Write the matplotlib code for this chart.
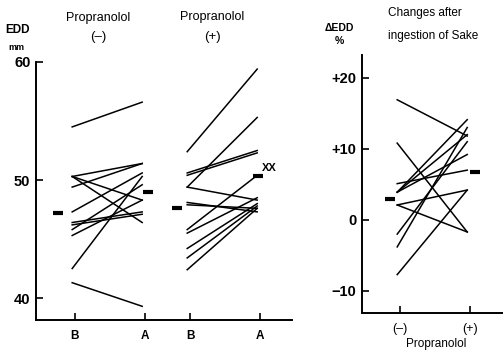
import matplotlib
matplotlib.use("Agg")
import matplotlib.pyplot as plt

plt.rcParams['font.family'] = ['Liberation Sans', 'DejaVu Sans']

# EDD (mm) before (B) and after (A) sake, propranolol (-)
minus_B = [54.5, 50.3, 49.4, 50.3, 50.3, 47.3, 46.4, 46.2, 45.3, 42.5, 41.3, 45.8]
minus_A = [56.6, 51.4, 51.4, 48.3, 46.4, 50.6, 47.3, 47.1, 48.3, 50.3, 39.3, 49.6]
minus_mean = [47.2, 49.0]

# EDD (mm) before (B) and after (A) sake, propranolol (+)
plus_B = [52.4, 49.4, 50.6, 50.4, 49.4, 48.1, 47.9, 45.8, 45.5, 44.2, 43.4, 42.4]
plus_A = [59.4, 55.3, 52.5, 52.3, 48.3, 47.3, 47.6, 50.4, 48.5, 48.0, 47.8, 47.6]
plus_mean = [47.6, 50.3]

# change of EDD (%) after sake, without / with propranolol
delta_minus = [16.9, 10.8, 5.1, 3.9, 3.9, 3.9, 2.1, 2.1, -3.8, -7.7, -2.0]
delta_plus = [11.8, -1.7, 7.0, 14.1, 12.0, 9.2, 4.2, -1.7, 13.0, 4.2, 11.0]
delta_mean = [3.0, 6.8]

W, H = 503, 355
fig = plt.figure(figsize=(W / 100, H / 100), dpi=100)


def rect(x0, y0, x1, y1):
    # pixel box -> figure fraction
    return [x0 / W, 1 - y1 / H, (x1 - x0) / W, (y1 - y0) / H]


def ftext(x, y, s, **kw):
    fig.text(x / W, 1 - y / H, s, **kw)


# ---- left: absolute EDD, both panels share one axis ----
ax = fig.add_axes(rect(36, 62, 292, 320))
ax.set_xlim(-0.557, 3.1)
ax.set_ylim(38.14, 60)
for s in ['top', 'right']:
    ax.spines[s].set_visible(False)
for s in ['left', 'bottom']:
    ax.spines[s].set_linewidth(1.4)

x2 = 1.643
for b, a in zip(minus_B, minus_A):
    ax.plot([-0.04, 0.96], [b, a], color='black', lw=1.1)
for b, a in zip(plus_B, plus_A):
    ax.plot([x2 - 0.04, x2 + 0.96], [b, a], color='black', lw=1.1)

mk = dict(marker='_', color='black', markersize=7, mew=3, ls='none')
ax.plot([-0.24], [minus_mean[0]], **mk)
ax.plot([1.04], [minus_mean[1]], **mk)
ax.plot([x2 - 0.18], [plus_mean[0]], **mk)
ax.plot([x2 + 0.97], [plus_mean[1]], **mk)
ax.text(x2 + 1.02, plus_mean[1] + 0.3, 'XX', fontsize=8, fontweight='bold',
        va='bottom', ha='left')

ax.set_yticks([40, 50, 60])
ax.set_yticklabels(['40', '50', '60'], fontsize=10.5, fontweight='bold')
ax.set_xticks([0, 1, x2, x2 + 1])
ax.set_xticklabels(['B', 'A', 'B', 'A'], fontsize=8.5, fontweight='bold')
ax.tick_params(direction='in', length=5, width=1.2, pad=4)
ax.tick_params(axis='x', pad=7)

ftext(17, 30, 'EDD', fontsize=8.5, fontweight='bold', ha='center', va='center')
ftext(16, 47, 'mm', fontsize=6.5, fontweight='bold', ha='center', va='center')
ftext(98, 18, 'Propranolol', fontsize=9, ha='center', va='center')
ftext(98, 37, '(\u2013)', fontsize=9.5, ha='center', va='center')
ftext(212, 17, 'Propranolol', fontsize=9, ha='center', va='center')
ftext(212, 37, '(+)', fontsize=9.5, ha='center', va='center')

# ---- right: percent change ----
ax2 = fig.add_axes(rect(362, 55, 503, 313))
ax2.set_xlim(-0.543, 1.471)
ax2.set_ylim(-13.1, 23.2)
for s in ['top', 'right']:
    ax2.spines[s].set_visible(False)
for s in ['left', 'bottom']:
    ax2.spines[s].set_linewidth(1.4)

for m, p in zip(delta_minus, delta_plus):
    ax2.plot([-0.04, 0.96], [m, p], color='black', lw=1.1)
ax2.plot([-0.14], [delta_mean[0]], **mk)
ax2.plot([1.07], [delta_mean[1]], **mk)

ax2.set_yticks([-10, 0, 10, 20])
ax2.set_yticklabels(['\u221210', '0', '+10', '+20'], fontsize=10.5, fontweight='bold')
ax2.set_xticks([0, 1])
ax2.set_xticklabels(['(\u2013)', '(+)'], fontsize=9)
ax2.tick_params(direction='in', length=5, width=1.2, pad=4)
ax2.tick_params(axis='x', pad=7)

ftext(339, 28, '\u0394EDD', fontsize=7.5, fontweight='bold', ha='center', va='center')
ftext(339, 41, '%', fontsize=7.5, fontweight='bold', ha='center', va='center')
ftext(388, 13, 'Changes after', fontsize=8.5, ha='left', va='center')
ftext(388, 36, 'ingestion of Sake', fontsize=8.5, ha='left', va='center')
ftext(436, 344, 'Propranolol', fontsize=8.5, ha='center', va='center')

fig.savefig('out.png', dpi=100)
